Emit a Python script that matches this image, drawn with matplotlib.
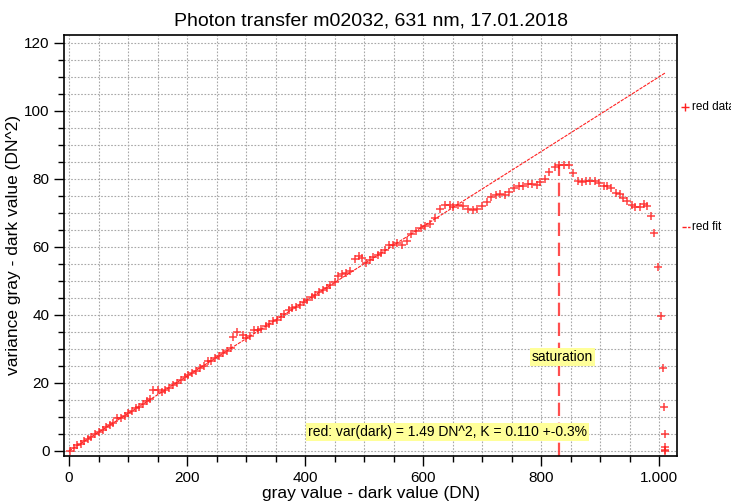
import matplotlib
matplotlib.use("Agg")
import matplotlib.pyplot as plt
from matplotlib.lines import Line2D
from matplotlib.ticker import MultipleLocator

# =========================
# Data
# =========================
gray = [2, 8, 14, 20, 26, 32, 38, 44, 50, 57, 63, 69, 75, 82, 88, 94, 100,
        107, 113, 119, 126, 132, 138, 143, 150, 157, 163, 170, 176, 183, 189,
        196, 202, 209, 215, 222, 228, 235, 241, 248, 254, 261, 267, 274, 278,
        285, 294, 300, 307, 313, 320, 326, 333, 339, 346, 352, 359, 365, 372,
        378, 385, 391, 398, 404, 411, 417, 424, 430, 437, 443, 450, 456, 463,
        469, 476, 485, 491, 497, 503, 510, 516, 523, 529, 536, 542, 549, 556,
        564, 572, 580, 588, 596, 603, 612, 620, 628, 637, 645, 651, 660, 667,
        677, 684, 692, 700, 708, 715, 723, 730, 739, 746, 754, 763, 770, 778,
        784, 793, 799, 807, 814, 824, 831, 839, 847, 854, 862, 869, 876, 883,
        892, 898, 906, 912, 918, 927, 933, 939, 946, 954, 960, 967, 975, 979,
        986, 992, 999, 1003, 1007, 1008, 1010, 1010, 1010, 1010]
variance = [0.1, 0.9, 1.6, 2.1, 2.9, 3.6, 4.1, 4.9, 5.6, 6.2, 7.0, 7.5, 8.3,
            9.6, 9.7, 10.3, 11.1, 11.7, 12.5, 13.0, 13.9, 14.8, 15.3, 17.9,
            17.9, 17.2, 18.0, 18.6, 19.5, 20.1, 20.8, 21.6, 22.3, 22.9, 23.5,
            24.5, 25.1, 26.3, 26.5, 27.2, 28.0, 28.8, 29.3, 30.2, 33.4, 34.9,
            34.1, 33.1, 33.7, 35.6, 35.5, 35.9, 36.6, 37.3, 38.1, 38.6, 39.5,
            40.3, 41.5, 41.9, 42.2, 43.0, 43.8, 44.5, 45.3, 45.8, 46.7, 47.4,
            48.0, 48.9, 49.6, 51.3, 52.0, 52.4, 52.8, 56.4, 57.3, 56.6, 55.2,
            56.1, 56.9, 57.6, 58.1, 59.0, 60.6, 60.5, 61.2, 60.6, 61.8, 63.8,
            64.7, 65.5, 66.2, 66.7, 68.4, 71.2, 72.4, 72.2, 71.7, 72.4, 72.1,
            71.1, 70.9, 71.1, 71.9, 73.3, 74.8, 75.3, 75.5, 75.3, 76.0, 77.3,
            77.8, 77.8, 78.4, 78.5, 78.2, 79.0, 79.9, 82.0, 83.4, 84.1, 84.1,
            84.1, 81.7, 79.5, 79.0, 79.3, 79.3, 79.5, 78.9, 77.9, 77.9, 77.3,
            75.8, 75.6, 74.3, 73.6, 72.2, 71.6, 71.6, 72.5, 71.9, 69.1, 64.0,
            54.0, 39.7, 24.3, 13.0, 4.9, 1.1, 0.3, 0.0]

fit_x = [0, 1010]
fit_y = [0.0, 111.1]

saturation_x = 831
saturation_y = 84.1

x_ticks = [0, 200, 400, 600, 800, 1000]
x_tick_labels = ["0", "200", "400", "600", "800", "1.000"]

# =========================
# Figure
# =========================
plt.rcParams["font.family"] = ["Liberation Sans", "DejaVu Sans"]
fig = plt.figure(figsize=(7.31, 5.04), dpi=100)
ax = fig.add_axes([0.0876, 0.0952, 0.8386, 0.8354])

ax.plot(gray, variance, linestyle="none", marker="+", markersize=5.5,
        markeredgewidth=1.1, color="#ff2020", alpha=0.85, zorder=3)
ax.plot(fit_x, fit_y, color="#ff2020", linewidth=0.8,
        linestyle=(0, (3, 1)), zorder=2)
ax.plot([saturation_x, saturation_x], [-1.5, saturation_y], color="#ff3030",
        linewidth=1.6, linestyle=(0, (6, 3)), alpha=0.85, zorder=2)

ax.set_xlim(-8.5, 1030.5)
ax.set_ylim(-1.5, 122.3)

ax.set_xticks(x_ticks)
ax.set_xticklabels(x_tick_labels)
ax.xaxis.set_minor_locator(MultipleLocator(50))
ax.yaxis.set_major_locator(MultipleLocator(20))
ax.yaxis.set_minor_locator(MultipleLocator(5))
ax.tick_params(which="major", direction="out", length=7, labelsize=11, width=1)
ax.tick_params(which="minor", direction="out", length=4, width=1)
ax.grid(which="both", color="#a8a8a8", linestyle=(0, (1.5, 1.5)), linewidth=0.8)
ax.set_axisbelow(True)
for side in ["left", "bottom", "top", "right"]:
    ax.spines[side].set_linewidth(1.2)

ax.set_title("Photon transfer m02032, 631 nm, 17.01.2018", fontsize=14, pad=7)
ax.set_xlabel("gray value - dark value (DN)", fontsize=12.5, labelpad=1)
ax.set_ylabel("variance gray - dark value (DN^2)", fontsize=12.5, labelpad=2)

box = dict(boxstyle="square,pad=0.15", facecolor="#ffff99", edgecolor="none")
ax.text(836, 27.6, "saturation", fontsize=10, ha="center", va="center", bbox=box)
ax.text(641, 5.6, "red: var(dark) = 1.49 DN^2, K = 0.110 +-0.3%",
        fontsize=10, ha="center", va="center", bbox=box)

# =========================
# Legend outside the axes
# =========================
fig.lines.append(Line2D([685 / 731], [1 - 107 / 504], marker="+", markersize=6,
                        color="#ff2020", linestyle="none", transform=fig.transFigure))
fig.text(692 / 731, 1 - 107 / 504, "red data", fontsize=8.5, va="center")
fig.lines.append(Line2D([682 / 731, 690 / 731], [1 - 227 / 504] * 2, color="#ff2020",
                        linewidth=1, linestyle=(0, (3, 1)), transform=fig.transFigure))
fig.text(692 / 731, 1 - 227 / 504, "red fit", fontsize=8.5, va="center")

fig.savefig("out.png", dpi=100)
